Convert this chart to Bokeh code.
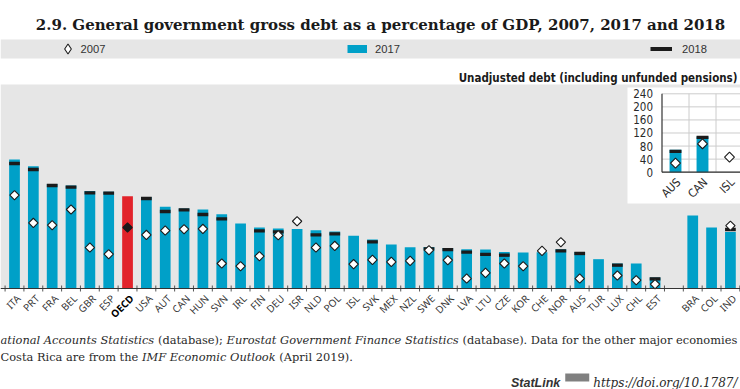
import math
import glob
from bokeh.plotting import figure
from bokeh.models import (ColumnDataSource, Range1d, LabelSet, Label, Legend, LegendItem,
                          BoxAnnotation, Span)
from bokeh.core.properties import value
from bokeh.embed import file_html
from bokeh.resources import INLINE

try:
    from PIL import ImageFont
except Exception:  # pragma: no cover
    ImageFont = None

nan = float("nan")

# ---------------- data ----------------
countries = ["ITA", "PRT", "FRA", "BEL", "GBR", "ESP", "OECD", "USA", "AUT", "CAN",
             "HUN", "SVN", "IRL", "FIN", "DEU", "ISR", "NLD", "POL", "ISL", "SVK",
             "MEX", "NZL", "SWE", "DNK", "LVA", "LTU", "CZE", "KOR", "CHE", "NOR",
             "AUS", "TUR", "LUX", "CHL", "EST",
             "BRA", "COL", "IND"]
n_oecd_group = 35  # countries before the gap (other major economies follow)

debt_2017 = [152.6, 144.7, 123.8, 121.9, 115.5, 114.4, 109.2, 108.4, 96.6, 94.7,
             93.5, 87.9, 76.9, 72.2, 71.0, 70.5, 69.0, 67.4, 62.3, 58.0,
             52.0, 48.9, 49.2, 48.0, 46.5, 46.1, 43.3, 42.6, 43.0, 46.5,
             43.3, 34.7, 29.6, 29.6, 13.0,
             86.4, 72.2, 67.0]
debt_2018 = [147.9, 140.8, 121.9, 119.9, 113.2, 112.8, nan, 106.5, 91.1, 93.0,
             87.6, 82.4, nan, 68.2, 67.0, nan, 63.4, 64.6, nan, 55.2,
             nan, nan, 46.9, 46.1, 43.0, 40.4, 39.4, nan, nan, 44.5,
             41.4, nan, 27.6, nan, 11.4,
             nan, nan, 69.8]
debt_2007 = [110.4, 77.6, 74.9, 93.5, 48.5, 40.6, 72.2, 63.4, 68.6, 70.2,
             70.5, 29.6, 26.4, 38.2, 63.0, 79.6, 48.5, 50.4, 28.8, 33.9,
             31.5, 32.7, 45.3, 33.5, 11.8, 18.5, 29.6, 26.4, 44.5, 54.8,
             11.8, nan, 15.4, 9.8, 5.1,
             nan, nan, 74.3]

inset_countries = ["AUS", "CAN", "ISL"]
inset_2017 = [68.5, 109.0, nan]
inset_2018 = [64.0, 106.5, nan]
inset_2007 = [27.6, 86.9, 46.0]
inset_ticks = [0, 40, 80, 120, 160, 200, 240]
main_ticks = [40, 80, 120, 160, 200, 240]

title_text = "2.9. General government gross debt as a percentage of GDP, 2007, 2017 and 2018"
inset_title = "Unadjusted debt (including unfunded pensions)"
note_line1 = [("ational Accounts Statistics", "italic"), ("(database);", "normal"),
              ("Eurostat Government Finance Statistics", "italic"),
              ("(database). Data for the other major economies", "normal")]
note_line2 = [("Costa Rica are from the", "normal"), ("IMF Economic Outlook", "italic"),
              ("(April 2019).", "normal")]
statlink_label = "StatLink"
statlink_url = "https://doi.org/10.1787/"

# ---------------- styles ----------------
BLUE = "#00A0C8"
RED = "#E2232A"
DARK = "#1b1b1b"
GREY_BG = "#E6E6E6"
TXT = "#2a2a2a"
SERIF = "DejaVu Serif"
NARROW = "DejaVu Sans Condensed"
SERIF_FILES = {"normal": "DejaVuSerif.ttf", "italic": "DejaVuSerif-Italic.ttf",
               "bold": "DejaVuSerif-Bold.ttf"}

W, H = 740, 389


def font_path(fname):
    for pat in (f"/usr/share/fonts/**/{fname}", f"/usr/local/share/fonts/**/{fname}",
                f"/usr/share/fonts/{fname}"):
        hits = glob.glob(pat, recursive=True)
        if hits:
            return hits[0]
    return None


_fonts = {}


def text_width(s, fname, size, em=0.56):
    path = font_path(fname) if ImageFont is not None else None
    if path:
        try:
            if path not in _fonts:
                _fonts[path] = ImageFont.truetype(path, 200)
            return _fonts[path].getlength(s) * size / 200.0
        except Exception:
            pass
    return len(s) * size * em


# plot area geometry (pixels in the 740x389 canvas)
PLOT_TOP_PX, AXIS_PX = 84, 288
PX_PER_UNIT = 0.845
FIRST_X, SLOT = 14.0, 18.84

xpos = [i if i < n_oecd_group else i + 1 for i in range(len(countries))]
x0r = -FIRST_X / SLOT
y0r = -(H - AXIS_PX) / PX_PER_UNIT
plot_top_val = (AXIS_PX - PLOT_TOP_PX) / PX_PER_UNIT

p = figure(width=W, height=H, output_backend="svg", toolbar_location=None,
           x_range=Range1d(x0r, x0r + W / SLOT),
           y_range=Range1d(y0r, y0r + H / PX_PER_UNIT),
           min_border=0, x_axis_location=None, y_axis_location=None,
           background_fill_color="white", border_fill_color="white",
           outline_line_color=None)
p.title.visible = False
p.grid.visible = False

src = ColumnDataSource(dict(
    x=xpos, v17=debt_2017, v18=debt_2018, v07=debt_2007, label=countries,
    bar_color=[RED if c == "OECD" else BLUE for c in countries],
    dia_color=[DARK if c == "OECD" else "white" for c in countries],
    lab_color=["black" if c == "OECD" else "#333333" for c in countries],
    lab_style=["bold" if c == "OECD" else "normal" for c in countries],
))

# plot-area background and legend band
p.add_layout(BoxAnnotation(bottom=0, top=plot_top_val, fill_color=GREY_BG, fill_alpha=1,
                           line_color=None, level="underlay"))
p.add_layout(BoxAnnotation(left=0, right=W, top=H - 39, bottom=H - 58,
                           left_units="screen", right_units="screen", top_units="screen",
                           bottom_units="screen", fill_color=GREY_BG, fill_alpha=1,
                           line_color=None, level="underlay"))

# grid lines (white) between categories and at the value ticks
bounds = [i + 0.5 for i in range(-2, max(xpos) + 2)]
p.segment(x0=bounds, y0=[0] * len(bounds), x1=bounds, y1=[plot_top_val] * len(bounds),
          line_color="white", line_width=1.4, level="underlay")
p.segment(x0=[bounds[0]] * len(main_ticks), y0=main_ticks,
          x1=[bounds[-1]] * len(main_ticks), y1=main_ticks,
          line_color="white", line_width=1.5, level="underlay")

# main series
p.vbar(x="x", top="v17", width=0.57, source=src, fill_color="bar_color", line_color=None)
p.rect(x="x", y="v18", width=0.57, height=3.3, height_units="screen", source=src,
       fill_color=DARK, line_color=None)
p.scatter(x="x", y="v07", marker="square", angle=math.pi / 4, size=6.6, source=src,
          fill_color="dia_color", line_color=DARK, line_width=1.1)

# x axis line and tick marks
p.add_layout(Span(location=0, dimension="width", line_color="#333333", line_width=1.2))
p.scatter(x=bounds, y=[0] * len(bounds), marker="dash", angle=math.pi / 2, size=6,
          line_color="#555555", line_width=1)

p.add_layout(LabelSet(x="x", y=0, text="label", source=src, angle=math.pi / 4,
                      text_align="right", text_baseline="middle", x_offset=4, y_offset=-8,
                      text_font=value("Noto Sans"), text_font_size="10px",
                      text_color="lab_color", text_font_style="lab_style"))

# ---------------- inset ----------------
IN_X0, IN_SLOT = 675.0, 27.0          # centre of first inset category, slot width
IN_AXIS_PX, IN_PX_PER_UNIT = 171.7, 0.32667
IN_BOX_LEFT, IN_BOX_TOP, IN_BOX_BOTTOM = 627, 87, 203   # white panel (pixels)
ix0 = -IN_X0 / IN_SLOT
iy0 = -(H - IN_AXIS_PX) / IN_PX_PER_UNIT
p.extra_x_ranges = {"ix": Range1d(ix0, ix0 + W / IN_SLOT)}
p.extra_y_ranges = {"iy": Range1d(iy0, iy0 + H / IN_PX_PER_UNIT)}

p.quad(left=[ix0 + IN_BOX_LEFT / IN_SLOT], right=[ix0 + W / IN_SLOT + 1],
       top=[(IN_AXIS_PX - IN_BOX_TOP) / IN_PX_PER_UNIT],
       bottom=[(IN_AXIS_PX - IN_BOX_BOTTOM) / IN_PX_PER_UNIT],
       x_range_name="ix", y_range_name="iy", fill_color="white", line_color=None)

ik = list(range(len(inset_countries)))
isrc = ColumnDataSource(dict(x=ik, v17=inset_2017, v18=inset_2018, v07=inset_2007,
                             label=inset_countries))
right_edge = len(inset_countries) + 0.5
tick_src = ColumnDataSource(dict(t=inset_ticks, x0=[-0.5] * len(inset_ticks),
                                 x1=[right_edge] * len(inset_ticks),
                                 lab=[str(t) for t in inset_ticks]))
vb = [k + 0.5 for k in ik]
p.segment(x0="x0", y0="t", x1="x1", y1="t", source=tick_src, x_range_name="ix",
          y_range_name="iy", line_color="#cccccc", line_width=1)
p.segment(x0=vb, y0=[0] * len(vb), x1=vb, y1=[max(inset_ticks)] * len(vb),
          x_range_name="ix", y_range_name="iy", line_color="#cccccc", line_width=1)
p.vbar(x="x", top="v17", width=0.44, source=isrc, x_range_name="ix", y_range_name="iy",
       fill_color=BLUE, line_color=None)
p.rect(x="x", y="v18", width=0.44, height=3.3, height_units="screen", source=isrc,
       x_range_name="ix", y_range_name="iy", fill_color=DARK, line_color=None)
p.segment(x0=[-0.5, -0.5], y0=[0, 0], x1=[-0.5, right_edge],
          y1=[max(inset_ticks), 0], x_range_name="ix", y_range_name="iy",
          line_color="#333333", line_width=1.2)
p.scatter(x="x", y="v07", marker="square", angle=math.pi / 4, size=7, source=isrc,
          x_range_name="ix", y_range_name="iy", fill_color="white", line_color=DARK,
          line_width=1.1)
p.add_layout(LabelSet(x="x0", y="t", text="lab", source=tick_src, x_range_name="ix",
                      y_range_name="iy", x_offset=-9, text_align="right",
                      text_baseline="middle", text_font=value(NARROW),
                      text_font_size="11.5px", text_color=TXT))
p.add_layout(LabelSet(x="x", y=0, text="label", source=isrc, x_range_name="ix",
                      y_range_name="iy", angle=math.pi / 4, text_align="right",
                      text_baseline="middle", x_offset=3, y_offset=-8,
                      text_font=value(NARROW), text_font_size="11.5px", text_color=TXT))

# ---------------- legend ----------------
# legend keys are drawn unrotated, so the 2007 key uses Bokeh's diamond marker
r07 = p.scatter(x=[nan], y=[nan], marker="diamond", size=7,
                fill_color="white", line_color=DARK, line_width=1.1)
r17 = p.line(x=[nan, nan], y=[nan, nan], line_color=BLUE, line_width=8)
r18 = p.line(x=[nan, nan], y=[nan, nan], line_color=DARK, line_width=4)
BAND_MID = 48.5
for lab, rend, lx, gw, gh, so in [("2007", r07, 54.5, 25, 25, 1),
                                  ("2017", r17, 347, 20, 19, 8),
                                  ("2018", r18, 650, 22, 19, 10)]:
    p.add_layout(Legend(items=[LegendItem(label=lab, renderers=[rend])],
                        location=(lx, H - BAND_MID - gh / 2), orientation="horizontal",
                        glyph_width=gw, glyph_height=gh, label_height=gh,
                        label_standoff=so, padding=0, margin=0, spacing=0,
                        background_fill_alpha=0, border_line_color=None,
                        label_text_font="Liberation Sans", label_text_font_size="11.2px",
                        label_text_color="#333333"))


# ---------------- texts ----------------
def txt(x, y, s, font=SERIF, size=11.7, style="normal", align="left", color=TXT):
    p.add_layout(Label(x=x, y=H - y, x_units="screen", y_units="screen", text=s,
                       text_align=align, text_baseline="alphabetic", text_font=font,
                       text_font_size=f"{size:.2f}px", text_font_style=style,
                       text_color=color))


# title: fitted to the width it spans in the reference
t_size = 14.0 * 690.0 / text_width(title_text, SERIF_FILES["bold"], 14.0, em=0.62)
txt(380, 24.5, title_text, size=t_size, style="bold", align="center", color="#1a1a1a")

# inset heading
ih_size = 11.5
ih_w = text_width(inset_title, "DejaVuSansCondensed-Bold.ttf", ih_size, em=0.52)
txt(min(507, W - 3 - ih_w), 77, inset_title, font=NARROW, size=ih_size, style="bold",
    color="#1a1a1a")


def seg_width(segs, size):
    tot = 0.0
    for j, (s, st) in enumerate(segs):
        tot += text_width(s + (" " if j < len(segs) - 1 else ""), SERIF_FILES[st], size)
    return tot


n_size = 12.0 * (W - 3) / seg_width(note_line1, 12.0)


def seg_line(segs, x0, y, size):
    x = x0
    for s, st in segs:
        txt(x, y, s, size=size, style=st)
        x += text_width(s + " ", SERIF_FILES[st], size)


seg_line(note_line1, 0, 339, n_size)
seg_line(note_line2, 0, 356, n_size)

url_size = 12.0
url_w = text_width(statlink_url, SERIF_FILES["italic"], url_size)
url_x = W - 3 - url_w
txt(url_x, 382, statlink_url, size=url_size, style="italic")
p.add_layout(BoxAnnotation(left=url_x - 28, right=url_x - 4, top=H - 373, bottom=H - 381,
                           left_units="screen", right_units="screen", top_units="screen",
                           bottom_units="screen", fill_color="#808080", fill_alpha=1,
                           line_color=None))
txt(url_x - 33, 382, statlink_label, font="Liberation Sans", size=12.5, style="bold italic",
    align="right", color="#333333")

open("out.html", "w").write(file_html(p, INLINE))
